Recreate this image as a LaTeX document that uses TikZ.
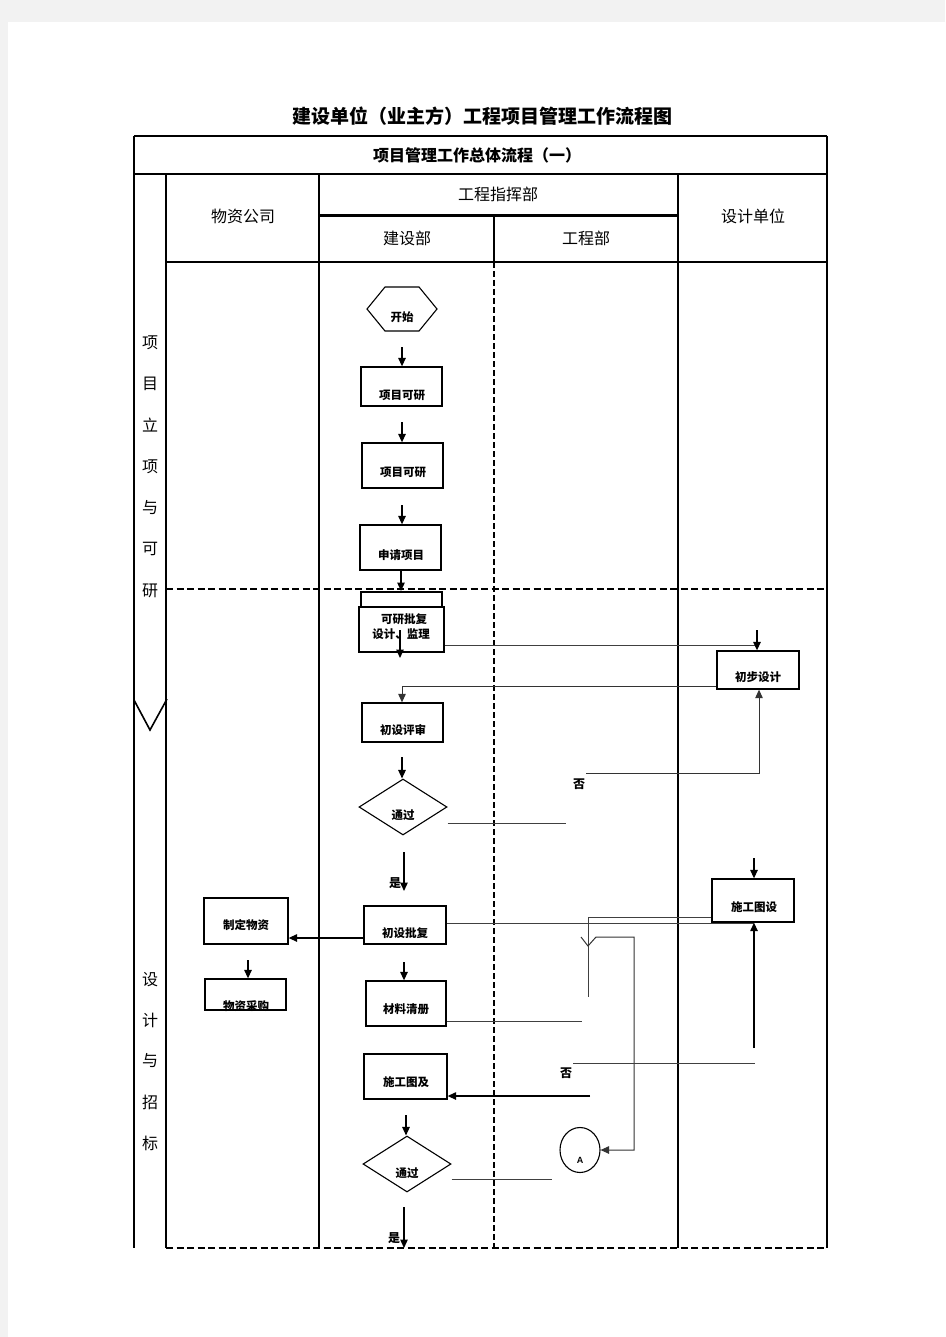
\documentclass[tikz,border=0pt]{standalone}
\usepackage{fontspec}
\setmainfont{Liberation Sans}
\newfontfamily\cjk{Noto Sans CJK SC}
\usetikzlibrary{arrows.meta,fit,shapes.geometric}
\begin{document}
\begin{tikzpicture}[x=1pt,y=-1pt,
  frame/.style={line width=1.6pt,black},
  dashlane/.style={line width=1.8pt,black,dash pattern=on 7pt off 3.5pt},
  dashcol/.style={line width=2.8pt,black,dash pattern=on 6pt off 3pt},
  box/.style={draw,line width=1.3pt,fill=white,inner sep=0pt},
  dia/.style={draw,diamond,line width=1.1pt,inner sep=0pt,minimum width=88pt,minimum height=56pt},
  conn/.style={line width=1pt,black!75},
  arr/.style={line width=1.3pt,black,-{Triangle[length=8.5pt,width=7.5pt]}},
  arrg/.style={line width=1pt,black!80,-{Triangle[length=8.5pt,width=7.5pt]}},
  txt/.style={inner sep=0pt,font=\cjk\fontsize{11.5}{12}\selectfont\bfseries},
  hdr/.style={inner sep=0pt,font=\cjk\fontsize{16}{17}\selectfont},
  lane/.style={inner sep=0pt,font=\cjk\fontsize{16}{17}\selectfont},
  lab/.style={inner sep=0pt,font=\cjk\fontsize{12}{13}\selectfont\bfseries}
]
% page
\fill[black!5] (0,0) rectangle (945,1337);
\fill[white] (8,22) rectangle (945,1337);
\useasboundingbox (0,0) rectangle (945,1337);

% title
\node[inner sep=0pt,font=\cjk\fontsize{19}{20}\selectfont\bfseries] (title) at (482,116) {建设单位（业主方）工程项目管理工作流程图};

% table frame
\draw[frame] (134,136) -- (827,136);
\draw[frame] (134,174) -- (827,174);
\draw[frame] (134,136) -- (134,1248);
\draw[frame] (827,136) -- (827,1248);
\draw[frame] (166,174) -- (166,1248);
\draw[frame] (319,174) -- (319,1248);
\draw[frame] (678,174) -- (678,1248);
\draw[line width=3pt] (319,216) -- (678,216);
\draw[line width=2.8pt] (494,216) -- (494,262);
\draw[dashcol] (494,262) -- (494,1248);
\draw[frame] (166,262) -- (827,262);
\draw[dashlane] (166,589) -- (827,589);
\draw[dashlane] (166,1248) -- (827,1248);
\draw[line width=1.6pt,line join=miter] (134,700) -- (150,730) -- (167,699);

% headers
\node[inner sep=0pt,font=\cjk\fontsize{16}{17}\selectfont\bfseries] (h0) at (477,155) {项目管理工作总体流程（一）};
\node[hdr] (h1) at (243,216) {物资公司};
\node[hdr] (h2) at (498,194) {工程指挥部};
\node[hdr] (h3) at (407,238) {建设部};
\node[hdr] (h4) at (586,238) {工程部};
\node[hdr] (h5) at (753,216) {设计单位};

% lane labels
\foreach \c/\yy [count=\i] in {项/343,目/384,立/425,项/467,与/508,可/549,研/591}
  \node[lane] (la\i) at (150,\yy) {\c};
\foreach \c/\yy [count=\i] in {设/980,计/1020,与/1061,招/1102,标/1143}
  \node[lane] (lb\i) at (150,\yy) {\c};

% start hexagon
\draw[line width=1.1pt] (367,309) -- (385,287) -- (419,287) -- (437,309) -- (419,331) -- (385,331) -- cycle;
\node[txt] (ts) at (402,317) {开始};

% boxes
\node[box,fit={(361,367) (442,406)}] (b1) {};
\node[txt] (t1) at (402,395) {项目可研};
\node[box,fit={(362,443) (443,488)}] (b2) {};
\node[txt] (t2) at (403,472) {项目可研};
\node[box,fit={(360,525) (441,570)}] (b3) {};
\node[txt] (t3) at (401,555) {申请项目};
\node[box,fit={(361,592) (442,625)}] (b4b) {};
\node[box,fit={(359,607) (444,652)}] (b4) {};
\node[txt] (t4a) at (404,619) {可研批复};
\node[txt] (t4b) at (401,634) {设计、监理};
\node[box,fit={(717,651) (799,689)}] (b5) {};
\node[txt] (t5) at (758,677) {初步设计};
\node[box,fit={(362,703) (443,742)}] (b6) {};
\node[txt] (t6) at (403,730) {初设评审};
\node[dia] (d1) at (403,807) {};
\node[txt] (td1) at (403,815) {通过};
\node[box,fit={(364,906) (446,944)}] (b7) {};
\node[txt] (t7) at (405,933) {初设批复};
\node[box,fit={(712,879) (794,922)}] (b8) {};
\node[txt] (t8) at (754,907) {施工图设};
\node[box,fit={(204,898) (288,944)}] (b9) {};
\node[txt] (t9) at (246,925) {制定物资};
\node[box,fit={(205,979) (286,1010)}] (b10) {};
\node[txt] (t10) at (246,1006) {物资采购};
\node[box,fit={(366,981) (446,1026)}] (b11) {};
\node[txt] (t11) at (406,1009) {材料清册};
\node[box,fit={(364,1054) (447,1099)}] (b12) {};
\node[txt] (t12) at (406,1082) {施工图及};
\node[dia] (d2) at (407,1164) {};
\node[txt] (td2) at (407,1173) {通过};
\node[draw,ellipse,line width=1.1pt,inner sep=0pt,minimum width=40pt,minimum height=45pt] (cA) at (580,1150) {};
\node[inner sep=0pt,font=\fontsize{9}{10}\selectfont\bfseries] (tA) at (580,1160) {A};

% labels
\node[lab] (no1) at (579,784) {否};
\node[lab] (yes1) at (395,883) {是};
\node[lab] (no2) at (566,1073) {否};
\node[lab] (yes2) at (394,1238) {是};

% coordinates for free ends
\coordinate (a1) at (402,347);
\coordinate (a2) at (402,422);
\coordinate (a3) at (402,505);
\coordinate (a4) at (401,591);
\coordinate (a5s) at (400,630);
\coordinate (a5e) at (400,658);
\coordinate (c6a) at (757,645);
\coordinate (c6s) at (757,630);
\coordinate (c7) at (402,686);
\coordinate (a8) at (402,757);
\coordinate (c9) at (566,823);
\coordinate (c10a) at (586,773);
\coordinate (c10b) at (759,773);
\coordinate (a11s) at (404,852);
\coordinate (a11e) at (404,891);
\coordinate (a13) at (248,960);
\coordinate (a14) at (404,962);
\coordinate (c15) at (582,1021);
\coordinate (c16) at (754,923);
\coordinate (a16) at (754,1048);
\coordinate (a17) at (754,858);
\coordinate (c18a) at (588,917);
\coordinate (c18b) at (588,997);
\coordinate (v1) at (581,937);
\coordinate (v2) at (588,946);
\coordinate (v3) at (596,937);
\coordinate (v4) at (634,937);
\coordinate (v5) at (634,1150);
\coordinate (c19a) at (573,1063);
\coordinate (c19b) at (755,1063);
\coordinate (a20) at (590,1096);
\coordinate (a21) at (406,1115);
\coordinate (c22) at (552,1179);
\coordinate (a23s) at (404,1207);
\coordinate (a23e) at (404,1248);

% connectors
\draw[arr] (a1) -- (a1 |- b1.north);
\draw[arr] (a2) -- (a2 |- b2.north);
\draw[arr] (a3) -- (a3 |- b3.north);
\draw[arr] (a4 |- b3.south) -- (a4);
\draw[arr] (a5s) -- (a5e);
\draw[conn] (b4.east |- c6a) -- (c6a);
\draw[arr] (c6s) -- (c6s |- b5.north);
\draw[arrg] (b5.west |- 0,686) -- (c7) -- (c7 |- b6.north);
\draw[arr] (a8) -- (a8 |- d1.north);
\draw[conn] (d1.east |- c9) -- (c9);
\draw[arrg] (c10a) -- (c10b) -- (b5.south -| c10b);
\draw[arr] (a11s) -- (a11e);
\draw[arr] (b7.west |- 0,938) -- (b9.east |- 0,938);
\draw[arr] (a13) -- (a13 |- b10.north);
\draw[arr] (a14) -- (a14 |- b11.north);
\draw[conn] (b11.east |- 0,1021) -- (c15);
\draw[conn] (b7.east |- c16) -- (c16);
\draw[arr] (a16) -- (a16 |- b8.south);
\draw[arr] (a17) -- (a17 |- b8.north);
\draw[conn] (b8.west |- c18a) -- (c18a) -- (c18b);
\draw[arrg] (v1) -- (v2) -- (v3) -- (v4) -- (v5) -- (cA.east);
\draw[conn] (c19a) -- (c19b);
\draw[arr] (a20) -- (b12.east |- a20);
\draw[arr] (a21) -- (a21 |- d2.north);
\draw[conn] (d2.east |- c22) -- (c22);
\draw[arr] (a23s) -- (a23e);
\end{tikzpicture}
\end{document}
